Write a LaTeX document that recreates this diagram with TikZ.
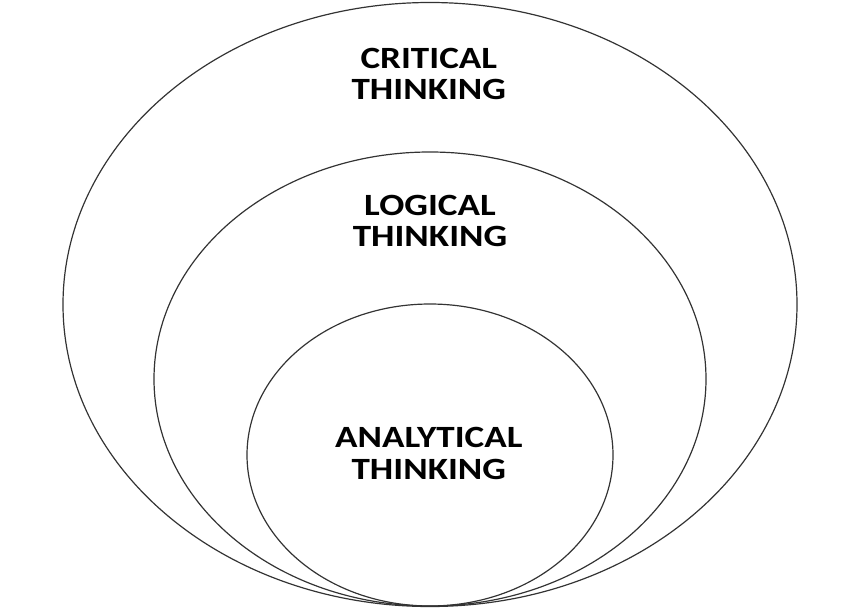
\documentclass[tikz,border=0pt]{standalone}
\usepackage{fontspec}
\setmainfont{Carlito}[FakeStretch=1.2]
\usetikzlibrary{shapes.geometric}

\begin{document}
\begin{tikzpicture}[
    ring/.style={draw=black!80, line width=0.85pt, ellipse, inner sep=0pt},
    label/.style={align=center, font=\fontsize{22}{22.5}\selectfont\bfseries, inner sep=0pt}
]
            \useasboundingbox (0,0) rectangle (21.5,15.2);

            % Rings
            \node[ring, minimum width=18.35cm, minimum height=15.1cm] (critical) at (10.75,7.5875) {};
            \node[ring, minimum width=13.8cm, minimum height=11.35cm] (logical) at (10.75,5.725) {};
            \node[ring, minimum width=9.15cm, minimum height=7.55cm] (analytical) at (10.75,3.825) {};

            % Labels
            \node[label] (tcritical) at (10.72,13.35) {CRITICAL\\THINKING};
            \node[label] (tlogical) at (10.75,9.68) {LOGICAL\\THINKING};
            \node[label] (tanalytical) at (10.72,3.86) {ANALYTICAL\\THINKING};

        \end{tikzpicture}
\end{document}
